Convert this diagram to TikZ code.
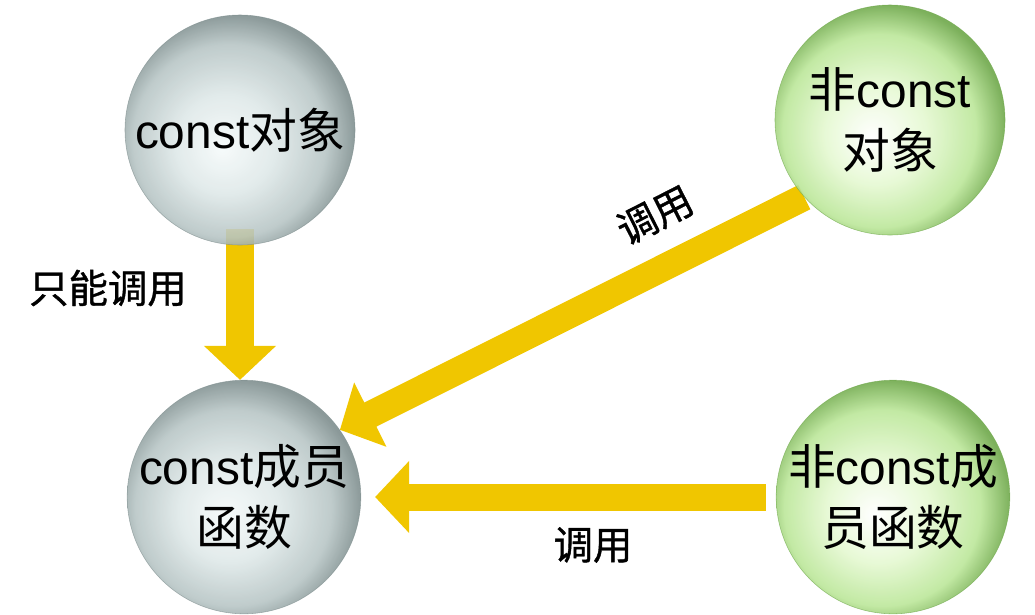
\documentclass[tikz,border=0pt]{standalone}
\usepackage{fontspec}
\setmainfont{Liberation Sans}
\newfontfamily\cjk{Noto Sans CJK SC}
\newfontfamily\cjklabel[FakeBold=1]{Noto Sans CJK SC}
\usetikzlibrary{positioning,arrows.meta}

\definecolor{callyellow}{RGB}{240,198,0}
\definecolor{sphgrayhi}{HTML}{F5FAFA}
\definecolor{sphgraymid}{HTML}{DDE7E7}
\definecolor{sphgrayedge}{HTML}{B6C4C4}
\definecolor{sphgrayrim}{HTML}{7B8B8B}
\definecolor{sphgreenhi}{HTML}{FFFFFF}
\definecolor{sphgreenmid}{HTML}{E4F8D0}
\definecolor{sphgreenedge}{HTML}{BAE697}
\definecolor{sphgreenrim}{HTML}{6AA545}

\pgfdeclareradialshading{graysphere}{\pgfpoint{-4bp}{-4bp}}{%
  color(0bp)=(sphgrayhi); color(11bp)=(sphgraymid); color(21bp)=(sphgrayedge);
  color(27bp)=(sphgrayrim); color(50bp)=(sphgrayrim)}
\pgfdeclareradialshading{greensphere}{\pgfpoint{-4bp}{-4bp}}{%
  color(0bp)=(sphgreenhi); color(11bp)=(sphgreenmid); color(21bp)=(sphgreenedge);
  color(27bp)=(sphgreenrim); color(50bp)=(sphgreenrim)}

\pgfdeclarelayer{bg}
\pgfsetlayers{bg,main}

\tikzset{
  sphere/.style={circle, minimum size=5.75cm, inner sep=0pt, align=center,
    fill opacity=0.88, text opacity=1, draw opacity=0.6, line width=0.4pt,
    font=\fontsize{34}{43}\selectfont},
  graysph/.style={sphere, shading=graysphere, draw=sphgrayrim},
  greensph/.style={sphere, shading=greensphere, draw=sphgreenrim},
  callarrow/.style={draw=callyellow, line width=0.675cm,
    -{Triangle[length=0.85cm,width=1.75cm]}},
  calllabel/.style={font=\cjklabel\fontsize{28}{34}\selectfont, inner sep=1pt}
}

\begin{document}
\begin{tikzpicture}[x=0.025cm, y=-0.025cm]
    \useasboundingbox (0,0) rectangle (1035,614);

    \node [graysph] (cobj) at (240,130) {const{\cjk 对象}};
    \node [greensph] (ncobj) at (890,120) {{\cjk 非}const\\{\cjk 对象}};
    \node [graysph] (cfun) at (244,497) {const{\cjk 成员}\\{\cjk 函数}};
    \node [greensph] (ncfun) at (893,497) {{\cjk 非}const{\cjk 成}\\{\cjk 员函数}};

    \begin{pgfonlayer}{bg}
        \draw [callarrow] ([yshift=0.4cm]cobj.south) -- (cobj.south |- cfun.north);
        \draw [callarrow] (ncobj.222) -- (cfun.35);
        \draw [callarrow] ([xshift=-0.25cm]ncfun.west) -- ([xshift=0.35cm]cfun.east);
    \end{pgfonlayer}

    \node [calllabel] (onlycall) at (108,288) {只能调用};
    \node [calllabel, rotate=27] (diagcall) at (655,215) {调用};
    \node [calllabel] (horicall) at (593,545) {调用};
\end{tikzpicture}
\end{document}
